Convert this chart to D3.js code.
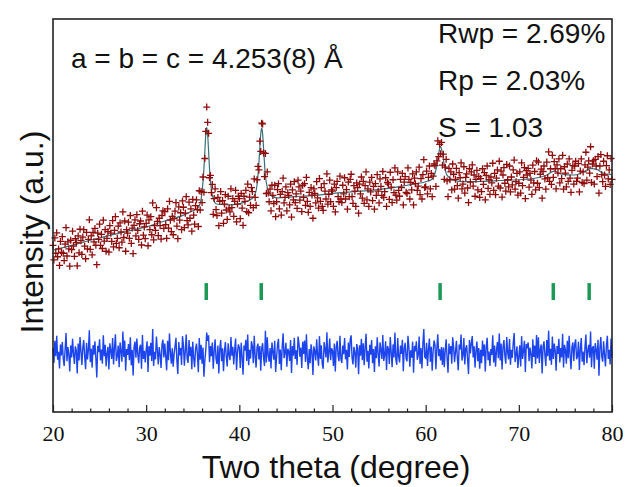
<!DOCTYPE html>
<html>
<head>
<meta charset="utf-8">
<script src="https://cdn.jsdelivr.net/npm/d3@7"></script>
<style>
  body { margin: 0; background: #fff; }
  svg { display: block; }
</style>
</head>
<body>
<div id="canvas"></div>
<script>
// scan: 20 - 80 deg, 0.1 deg step
const twoThetaStart = 20;
const twoThetaStep = 0.1;

// observed intensity (a.u.)
const observed = [
  424, 387, 443, 404, 456, 395, 415, 373, 434, 406,
  446, 404, 385, 427, 469, 397, 433, 415, 371, 437,
  413, 460, 422, 396, 441, 431, 372, 448, 405, 465,
  436, 401, 445, 464, 422, 390, 457, 415, 439, 489,
  414, 448, 400, 457, 433, 467, 424, 375, 455, 439,
  478, 424, 452, 416, 488, 435, 464, 409, 442, 459,
  407, 474, 455, 434, 487, 420, 462, 497, 429, 442,
  473, 418, 481, 458, 432, 509, 444, 486, 409, 464,
  455, 483, 442, 500, 429, 468, 403, 475, 489, 448,
  502, 462, 439, 479, 486, 425, 511, 450, 471, 441,
  480, 501, 423, 489, 464, 497, 451, 532, 438, 474,
  462, 520, 485, 449, 493, 474, 440, 500, 512, 467,
  510, 477, 442, 517, 468, 536, 488, 459, 498, 451,
  492, 511, 533, 473, 441, 522, 488, 507, 464, 537,
  521, 469, 506, 548, 487, 476, 534, 493, 517, 460,
  541, 501, 478, 525, 540, 515, 472, 563, 514, 561,
  533, 598, 559, 645, 714, 776, 737, 709, 596, 602,
  558, 579, 503, 543, 568, 515, 500, 546, 474, 536,
  561, 506, 538, 480, 529, 553, 514, 490, 549, 519,
  509, 568, 520, 543, 498, 536, 564, 484, 529, 549,
  543, 492, 556, 519, 475, 549, 536, 564, 510, 580,
  507, 547, 526, 571, 561, 520, 593, 546, 526, 591,
  625, 616, 689, 663, 735, 733, 659, 599, 658, 556,
  611, 557, 535, 567, 512, 577, 551, 530, 577, 497,
  535, 566, 581, 517, 554, 501, 561, 595, 532, 546,
  573, 512, 558, 551, 527, 580, 496, 565, 540, 586,
  533, 555, 518, 590, 573, 539, 562, 510, 577, 546,
  581, 526, 597, 536, 508, 559, 523, 571, 552, 493,
  568, 556, 532, 586, 545, 519, 594, 536, 571, 523,
  513, 581, 562, 542, 606, 529, 554, 590, 535, 565,
  562, 523, 580, 509, 571, 587, 548, 535, 600, 542,
  533, 577, 555, 596, 542, 566, 516, 585, 548, 592,
  605, 548, 531, 576, 562, 523, 583, 571, 506, 580,
  555, 598, 544, 587, 531, 576, 611, 540, 568, 523,
  585, 560, 597, 538, 574, 516, 581, 551, 604, 562,
  532, 593, 574, 551, 612, 546, 561, 596, 523, 584,
  580, 541, 610, 572, 533, 591, 558, 621, 552, 539,
  611, 564, 549, 592, 571, 607, 527, 585, 599, 559,
  556, 621, 592, 542, 584, 565, 606, 527, 595, 581,
  611, 564, 575, 623, 553, 594, 542, 604, 642, 571,
  573, 613, 555, 597, 626, 568, 607, 548, 600, 631,
  627, 574, 639, 690, 650, 681, 657, 686, 628, 656,
  592, 623, 643, 588, 548, 620, 591, 611, 565, 631,
  605, 567, 592, 620, 576, 544, 609, 596, 634, 568,
  580, 624, 557, 597, 606, 570, 533, 619, 585, 611,
  629, 575, 603, 549, 592, 615, 565, 599, 546, 594,
  561, 619, 579, 609, 540, 602, 626, 569, 591, 554,
  598, 583, 633, 564, 607, 553, 595, 616, 575, 638,
  570, 613, 547, 603, 622, 582, 562, 630, 591, 573,
  626, 560, 598, 578, 616, 641, 567, 586, 607, 552,
  582, 611, 557, 634, 576, 597, 622, 543, 614, 603,
  620, 572, 607, 590, 554, 628, 583, 612, 565, 639,
  582, 636, 571, 605, 618, 544, 612, 626, 593, 567,
  636, 596, 662, 587, 619, 579, 653, 597, 637, 619,
  568, 629, 608, 644, 583, 619, 594, 653, 567, 624,
  608, 573, 631, 587, 644, 595, 559, 615, 627, 580,
  626, 638, 587, 595, 632, 560, 613, 644, 584, 611,
  581, 629, 661, 590, 623, 639, 608, 675, 584, 631,
  639, 580, 643, 626, 599, 650, 557, 626, 655, 604,
  586, 638, 603, 574, 627, 652, 593, 616, 579, 645,
  592
];

// difference obs - calc
const difference = [
  12, -25, 31, -8, 44, -17, 3, -39, 22, -6,
  28, -14, -33, 9, 51, -21, 15, -3, -47, 19,
  -11, 36, -2, -28, 17, 7, -52, 24, -19, 41,
  5, -30, 14, 33, -9, -41, 26, -16, 8, 58,
  -23, 11, -37, 20, -4, 30, -13, -62, 18, 2,
  35, -19, 9, -27, 45, -8, 21, -34, -1, 16,
  -42, 25, 6, -15, 38, -29, 13, 48, -20, -7,
  19, -36, 27, 4, -22, 55, -10, 32, -45, 10,
  -5, 23, -18, 40, -31, 8, -57, 15, 29, -12,
  37, -3, -26, 14, 21, -40, 46, -15, 6, -24,
  9, 30, -48, 18, -7, 26, -20, 61, -33, 3,
  -16, 42, 7, -29, 15, -4, -38, 22, 34, -11,
  24, -9, -44, 31, -18, 50, 2, -27, 12, -35,
  -2, 17, 39, -21, -53, 28, -6, 13, -30, 43,
  20, -32, 5, 47, -14, -25, 33, -8, 16, -41,
  29, -12, -36, 10, 24, -3, -49, 38, -17, 21,
  -27, 14, -60, -19, 8, 52, 31, 45, -23, 18,
  -8, 27, -40, 6, 35, -15, -28, 19, -52, 11,
  33, -21, 12, -46, 4, 28, -10, -34, 25, -5,
  -18, 41, -7, 16, -29, 9, 37, -43, 2, 22,
  13, -38, 26, -11, -55, 19, 6, 34, -20, 47,
  -31, 8, -14, 30, 18, -26, 44, -9, -37, 15,
  24, -16, 18, -45, 12, 25, -12, -33, 57, -24,
  40, -6, -22, 13, -39, 27, 3, -17, 31, -48,
  -10, 21, 36, -28, 9, -44, 16, 50, -13, 1,
  26, -35, 11, 4, -20, 33, -51, 18, -7, 39,
  -15, 7, -30, 42, 25, -9, 14, -38, 29, -2,
  32, -23, 48, -13, -41, 10, -26, 22, 3, -56,
  17, 5, -19, 35, -6, -32, 43, -15, 20, -28,
  -40, 28, 9, -11, 53, -24, 1, 37, -18, 12,
  6, -33, 24, -47, 15, 31, -8, -21, 44, -14,
  -25, 19, -3, 38, -16, 8, -42, 27, -10, 34,
  45, -12, -29, 16, 2, -37, 23, 11, -54, 20,
  -7, 36, -18, 25, -31, 14, 49, -22, 6, -39,
  21, -4, 33, -26, 10, -48, 17, -13, 40, -2,
  -34, 27, 8, -15, 46, -20, -5, 30, -43, 18,
  11, -28, 41, 3, -36, 22, -11, 52, -17, -30,
  38, -9, -24, 19, -2, 34, -46, 12, 26, -14,
  -21, 44, 15, -35, 7, -12, 29, -50, 18, 4,
  30, -17, -6, 42, -28, 13, -39, 23, 61, -10,
  -13, 26, -33, 9, 37, -22, 16, -45, 5, 32,
  20, -41, 12, 48, -8, 10, -19, 15, -30, 14,
  -36, 7, 35, -14, -50, 24, -3, 18, -27, 40,
  15, -23, 3, 31, -12, -44, 22, 9, 47, -19,
  -6, 38, -29, 11, 20, -16, -53, 33, -1, 25,
  43, -11, 17, -37, 6, 29, -21, 13, -40, 8,
  -26, 32, -8, 22, -47, 15, 39, -18, 4, -33,
  10, -5, 45, -24, 19, -35, 7, 28, -13, 50,
  -19, 24, -42, 14, 33, -7, -27, 41, 2, -16,
  36, -30, 8, -12, 26, 51, -23, -4, 17, -38,
  -9, 20, -34, 43, -15, 6, 31, -48, 23, 12,
  27, -21, 14, -3, -39, 35, -10, 19, -28, 46,
  -14, 40, -25, 9, 22, -52, 16, 30, -6, -33,
  33, -8, 57, -19, 11, -30, 42, -15, 24, 7,
  -45, 18, -2, 36, -24, 13, -11, 49, -37, 21,
  8, -27, 31, -13, 44, -5, -41, 15, 27, -20,
  23, 35, -16, -8, 29, -43, 10, 38, -22, 4,
  -31, 16, 47, -26, 6, 21, -12, 55, -36, 13,
  18, -40, 25, 9, -17, 34, -58, 12, 41, -9,
  -22, 30, -5, -34, 19, 44, -15, 8, -29, 37,
  -12
];

// calculated profile
const calcTheta = [20, 22, 24, 26, 28, 30, 32, 34, 35, 35.5, 35.8, 36, 36.2, 36.3, 36.4, 36.5, 36.6, 36.7, 36.8, 37, 37.2, 37.5, 38, 39, 40, 41, 41.5, 41.8, 42, 42.2, 42.3, 42.4, 42.5, 42.6, 42.8, 43, 43.3, 44, 46, 48, 50, 52, 54, 56, 58, 60, 60.6, 61, 61.2, 61.4, 61.6, 61.8, 62, 62.3, 63, 64, 66, 68, 70, 72, 73, 73.8, 74.5, 76, 77, 77.7, 78.5, 79, 80];
const calcValues = [412, 424, 437, 449, 460, 471, 486, 501, 512, 518, 531, 560, 619, 664, 706, 724, 706, 664, 619, 566, 543, 530, 528, 527, 530, 538, 546, 563, 601, 671, 708, 723, 708, 671, 601, 571, 554, 545, 548, 551, 556, 560, 564, 569, 577, 586, 591, 607, 627, 658, 676, 658, 628, 602, 590, 586, 587, 589, 591, 596, 603, 613, 606, 603, 612, 620, 616, 608, 604];

// Bragg reflection positions
const braggPositions = [36.45, 42.35, 61.55, 73.7, 77.55];

const xTickLabels = [20, 30, 40, 50, 60, 70, 80];
const xMinorTicks = d3.range(22, 80, 2).filter(v => v % 10 !== 0);

const width = 626;
const height = 487;
const margin = { top: 19, left: 53, bottom: 75, right: 14 };
const iwidth = width - margin.left - margin.right;
const iheight = height - margin.top - margin.bottom;

const diffOffset = 150;
const braggLow = 285, braggHigh = 328;

const svg = d3.select("#canvas").append("svg")
    .attr("width", width)
    .attr("height", height);

const g = svg.append("g").attr("transform", `translate(${margin.left},${margin.top})`);

const x = d3.scaleLinear().domain([20, 80]).range([0, iwidth]);
const y = d3.scaleLinear().domain([0, 1000]).range([iheight, 0]);

const obsData = observed.map((v, i) => ({ t: twoThetaStart + i * twoThetaStep, v }));
const diffData = difference.map((v, i) => ({ t: twoThetaStart + i * twoThetaStep, v }));
const calcData = calcTheta.map((t, i) => ({ t, v: calcValues[i] }));

// difference curve
g.append("path")
    .datum(diffData)
    .attr("fill", "none")
    .attr("stroke", "#1d45ee")
    .attr("stroke-width", 1.4)
    .attr("d", d3.line().x(d => x(d.t)).y(d => y(d.v + diffOffset)));

// bragg ticks
g.selectAll(".bragg")
    .data(braggPositions)
    .enter().append("line")
    .attr("class", "bragg")
    .attr("x1", d => x(d)).attr("x2", d => x(d))
    .attr("y1", y(braggLow)).attr("y2", y(braggHigh))
    .attr("stroke", "#1c9955")
    .attr("stroke-width", 3.5);

// calculated line (mostly under the crosses)
g.append("path")
    .datum(calcData)
    .attr("fill", "none")
    .attr("stroke", "#3a6e78")
    .attr("stroke-width", 1.2)
    .attr("d", d3.line().curve(d3.curveMonotoneX).x(d => x(d.t)).y(d => y(d.v)));

// observed crosses
g.selectAll(".obs")
    .data(obsData)
    .enter().append("path")
    .attr("class", "obs")
    .attr("transform", d => `translate(${x(d.t)},${y(d.v)})`)
    .attr("d", "M-3.5,0H3.5M0,-3.5V3.5")
    .attr("stroke", "#8e0c0c")
    .attr("stroke-width", 1.3)
    .attr("fill", "none");

// axes (ticks pointing inward)
const xAxis = g.append("g")
    .attr("transform", `translate(0,${iheight})`)
    .call(d3.axisBottom(x).tickValues(xTickLabels).tickSize(-7).tickPadding(13).tickFormat(d3.format("d")));
xAxis.select(".domain").remove();
xAxis.selectAll("text")
    .attr("font-family", "'Liberation Serif', 'Times New Roman', serif")
    .attr("font-size", 22)
    .attr("fill", "#111");
xAxis.selectAll("line").attr("stroke", "#222").attr("stroke-width", 1.2);

const xMinor = g.append("g")
    .attr("transform", `translate(0,${iheight})`)
    .call(d3.axisBottom(x).tickValues(xMinorTicks).tickSize(-3.5).tickFormat(""));
xMinor.select(".domain").remove();
xMinor.selectAll("line").attr("stroke", "#222").attr("stroke-width", 1.2);

// frame
g.append("rect")
    .attr("width", iwidth)
    .attr("height", iheight)
    .attr("fill", "none")
    .attr("stroke", "#222")
    .attr("stroke-width", 1.6);

// titles
svg.append("text")
    .attr("x", 336).attr("y", 478)
    .attr("text-anchor", "middle")
    .attr("font-family", "'Liberation Sans', Arial, sans-serif")
    .attr("font-size", 32)
    .attr("fill", "#111")
    .text("Two theta (degree)");

svg.append("text")
    .attr("transform", "translate(43,232) rotate(-90)")
    .attr("text-anchor", "middle")
    .attr("font-family", "'Liberation Sans', Arial, sans-serif")
    .attr("font-size", 32)
    .attr("fill", "#111")
    .text("Intensity (a.u.)");

// annotations
const ann = svg.append("g")
    .attr("font-family", "'Liberation Sans', Arial, sans-serif")
    .attr("font-size", 28)
    .attr("fill", "#111");
ann.append("text").attr("x", 71).attr("y", 68).text("a = b = c = 4.253(8) Å");
ann.append("text").attr("x", 438).attr("y", 43).text("Rwp = 2.69%");
ann.append("text").attr("x", 438).attr("y", 90).text("Rp = 2.03%");
ann.append("text").attr("x", 438).attr("y", 137).text("S = 1.03");
</script>
</body>
</html>
